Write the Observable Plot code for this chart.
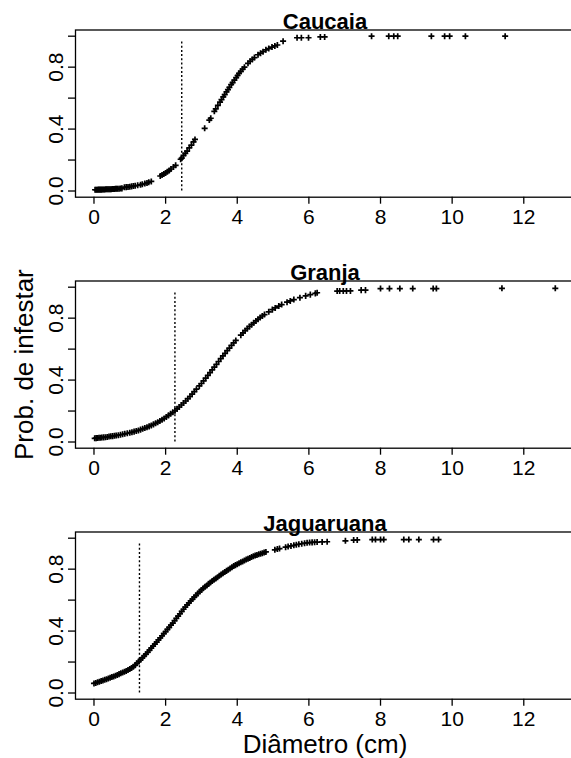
<!DOCTYPE html>
<html><head><meta charset="utf-8">
<script src="https://cdn.jsdelivr.net/npm/d3@7"></script>
<script src="https://cdn.jsdelivr.net/npm/@observablehq/plot@0.6"></script>
<style>
html,body{margin:0;padding:0;background:#fff;overflow:hidden;}
#wrap{position:relative;width:571px;height:758px;overflow:hidden;background:#fff;}
.panel{position:absolute;left:0;max-width:none !important;}
</style></head><body><div id="wrap"></div>
<script>
const sites = ["Caucaia", "Granja", "Jaguaruana"];
const cutoffs = [2.45, 2.26, 1.27];
const xTicks = [0, 2, 4, 6, 8, 10, 12];
const yTicks = [0, 0.2, 0.4, 0.6, 0.8, 1];
const yLabelTicks = [0, 0.4, 0.8];
const yTitle = "Prob. de infestar";
const xTitle = "Diâmetro (cm)";

const caucaiaX = [0.03,0.06,0.09,0.12,0.15,0.18,0.21,0.24,0.27,0.30,0.33,0.36,0.39,0.42,0.45,0.48,0.51,0.54,0.57,0.60,0.63,0.66,0.70,0.74,0.78,
  0.85,0.90,0.95,1.00,1.05,1.10,1.15,1.22,1.30,1.35,1.42,1.48,1.53,1.60,
  1.85,1.90,1.95,2.00,2.05,2.10,2.15,2.22,2.28,
  2.42,2.45,2.50,2.55,2.60,2.66,2.72,2.78,2.82,
  3.09,3.22,3.26,3.36,3.40,3.46,3.52,3.56,3.61,3.65,3.70,3.74,3.78,3.83,3.87,3.92,3.97,4.01,4.05,4.10,4.15,4.20,4.30,4.36,4.42,4.48,4.58,4.65,4.72,4.80,4.88,4.97,5.05,5.12,5.28,
  5.67,5.79,5.99,6.32,6.44,7.75,8.23,8.37,8.48,9.42,9.79,9.93,10.37,11.48];
const caucaiaY = [0.008,0.008,0.008,0.009,0.009,0.009,0.009,0.010,0.010,0.010,0.011,0.011,0.011,0.011,0.012,0.012,0.013,0.013,0.013,0.014,0.014,0.015,0.015,0.016,0.017,
  0.024,0.025,0.026,0.028,0.030,0.032,0.034,0.037,0.040,0.044,0.048,0.052,0.056,0.062,
  0.097,0.104,0.110,0.117,0.125,0.133,0.142,0.155,0.166,
  0.205,0.212,0.230,0.243,0.258,0.278,0.297,0.318,0.333,
  0.405,0.458,0.470,0.515,0.530,0.553,0.574,0.590,0.608,0.622,0.640,0.655,0.670,0.688,0.700,0.716,0.733,0.746,0.760,0.773,0.787,0.800,0.825,0.838,0.850,0.862,0.880,0.890,0.900,0.912,0.920,0.930,0.937,0.943,0.968,
  0.990,0.990,0.990,0.995,0.995,1,1,1,1,1,1,1,1,1];

const granjaX = [0.02,0.06,0.10,0.14,0.18,0.22,0.27,0.32,0.37,0.42,0.47,0.52,0.57,0.62,0.68,0.74,0.80,0.86,0.93,1.00,1.06,1.12,1.18,1.24,1.30,1.36,1.42,1.48,1.54,1.60,1.66,1.72,1.78,1.84,1.90,1.96,2.02,2.08,2.14,2.20,2.26,2.32,2.38,2.44,2.50,2.56,2.62,2.68,2.74,2.80,2.86,2.94,3.00,3.06,3.12,3.18,3.24,3.30,3.36,3.42,3.48,3.54,3.60,3.66,3.72,3.78,3.84,3.90,3.96,4.10,4.16,4.22,4.28,4.34,4.40,4.46,4.52,4.58,4.64,4.70,4.76,4.88,4.98,5.06,5.16,5.24,5.39,5.48,5.58,5.75,5.91,6.04,6.18,6.23,
  6.79,6.86,6.96,7.05,7.16,7.46,7.58,8.00,8.25,8.54,8.90,9.47,9.56,11.39,12.88];
const granjaY = [0.024,0.025,0.026,0.027,0.028,0.029,0.030,0.031,0.033,0.035,0.037,0.038,0.040,0.042,0.044,0.047,0.050,0.053,0.056,0.060,0.063,0.067,0.071,0.075,0.080,0.085,0.090,0.095,0.101,0.107,0.114,0.121,0.128,0.136,0.144,0.152,0.162,0.172,0.182,0.192,0.202,0.214,0.226,0.239,0.252,0.265,0.280,0.294,0.309,0.325,0.341,0.362,0.378,0.395,0.412,0.430,0.448,0.466,0.484,0.502,0.520,0.538,0.556,0.573,0.590,0.607,0.624,0.640,0.656,0.690,0.705,0.719,0.733,0.746,0.758,0.770,0.782,0.793,0.804,0.814,0.823,0.841,0.855,0.866,0.878,0.888,0.903,0.911,0.920,0.932,0.944,0.952,0.960,0.964,
  0.975,0.975,0.975,0.976,0.976,0.981,0.981,0.991,0.991,0.991,0.991,0.991,0.991,0.993,0.993];

const jaguaruanaX = [0.00,0.05,0.10,0.15,0.20,0.25,0.30,0.35,0.40,0.45,0.50,0.55,0.60,0.65,0.70,0.75,0.80,0.85,0.90,0.95,1.00,1.05,1.10,1.15,1.20,1.25,1.30,1.35,1.40,1.45,1.50,1.55,1.60,1.65,1.70,1.75,1.80,1.85,1.90,1.95,2.00,2.05,2.10,2.15,2.20,2.25,2.30,2.35,2.40,2.45,2.50,2.55,2.60,2.65,2.70,2.75,2.80,2.85,2.90,2.95,3.00,3.05,3.10,3.15,3.20,3.25,3.30,3.35,3.40,3.45,3.50,3.55,3.60,3.65,3.70,3.75,3.80,3.85,3.90,3.95,4.00,4.05,4.10,4.15,4.20,4.25,4.30,4.35,4.40,4.45,4.50,4.55,4.60,4.65,4.70,4.75,4.80,
  5.05,5.12,5.18,5.35,5.42,5.50,5.58,5.65,5.72,5.80,5.88,5.95,6.02,6.09,6.16,6.23,6.37,6.51,7.02,7.25,7.35,7.77,7.86,8.00,8.09,8.65,8.79,9.07,9.48,9.62];
const jaguaruanaY = [0.062,0.065,0.069,0.073,0.077,0.081,0.085,0.089,0.094,0.098,0.103,0.107,0.112,0.117,0.122,0.127,0.132,0.137,0.142,0.148,0.155,0.162,0.170,0.180,0.192,0.204,0.215,0.227,0.239,0.251,0.264,0.277,0.290,0.303,0.316,0.329,0.343,0.356,0.370,0.383,0.397,0.411,0.424,0.438,0.452,0.467,0.482,0.497,0.512,0.527,0.541,0.555,0.569,0.582,0.595,0.607,0.619,0.631,0.643,0.655,0.666,0.676,0.686,0.695,0.705,0.714,0.723,0.731,0.740,0.748,0.757,0.765,0.773,0.781,0.789,0.796,0.804,0.812,0.820,0.826,0.832,0.838,0.844,0.850,0.856,0.862,0.867,0.872,0.878,0.883,0.888,0.892,0.896,0.899,0.903,0.907,0.911,
  0.925,0.930,0.933,0.942,0.946,0.950,0.954,0.958,0.961,0.964,0.968,0.970,0.972,0.973,0.974,0.975,0.976,0.977,0.983,0.988,0.989,0.991,0.991,0.991,0.991,0.991,0.991,0.991,0.991,0.991];

const seriesX = [caucaiaX, granjaX, jaguaruanaX];
const seriesY = [caucaiaY, granjaY, jaguaruanaY];

const FONT = "'Liberation Sans', Arial, Helvetica, sans-serif";
const tops = [0, 251, 502];
const heights = [251, 251, 256];
const wrap = document.getElementById("wrap");

sites.forEach((site, i) => {
  const data = seriesX[i].map((x, j) => ({x, y: seriesY[i][j]}));
  const marks = [
    Plot.axisY({ticks: yTicks, tickSize: 7, tickFormat: () => "", label: null, strokeWidth: 1.3}),
    Plot.text(yLabelTicks, {y: d => d, text: d => d.toFixed(1), frameAnchor: "left", dx: -13, rotate: -90, textAnchor: "middle", lineAnchor: "bottom", fontSize: 21, fill: "#000"}),
    Plot.axisX({ticks: xTicks, tickSize: 7, tickPadding: 5, fontSize: 21, tickFormat: d => String(d), label: null, strokeWidth: 1.3}),
    Plot.ruleX([cutoffs[i]], {y1: 0, y2: 0.97, stroke: "#000", strokeWidth: 1.4, strokeDasharray: "2,2.2"}),
    Plot.dot(data, {x: "x", y: "y", symbol: "plus", r: 2.1, stroke: "#000", strokeWidth: 1.7}),
    Plot.frame({stroke: "#000", strokeWidth: 1.3}),
    Plot.text([site], {frameAnchor: "top", lineAnchor: "bottom", dy: -1, text: d => d, fontSize: 22, fontWeight: "bold", fill: "#000"})
  ];
  if (i === 1) {
    marks.push(Plot.text([yTitle], {frameAnchor: "left", dx: -43, rotate: -90, textAnchor: "middle", lineAnchor: "bottom", text: d => d, fontSize: 26, fill: "#000"}));
  }
  if (i === 2) {
    marks.push(Plot.text([xTitle], {frameAnchor: "bottom", dy: 54, lineAnchor: "bottom", text: d => d, fontSize: 26, fill: "#000"}));
  }
  const h = heights[i];
  const chart = Plot.plot({
    width: 600,
    height: h,
    marginLeft: 75,
    marginRight: 26,
    marginTop: 29.5,
    marginBottom: h - 29.5 - 167.2,
    style: {fontFamily: FONT, background: "transparent", color: "#000", overflow: "visible", maxWidth: "none"},
    x: {domain: [-0.516, 13.416]},
    y: {domain: [-0.04, 1.04]},
    marks
  });
  chart.classList.add("panel");
  chart.style.top = tops[i] + "px";
  chart.style.maxWidth = "none";
  chart.style.width = "600px";
  chart.style.height = h + "px";
  wrap.appendChild(chart);
});
</script>
</body></html>
